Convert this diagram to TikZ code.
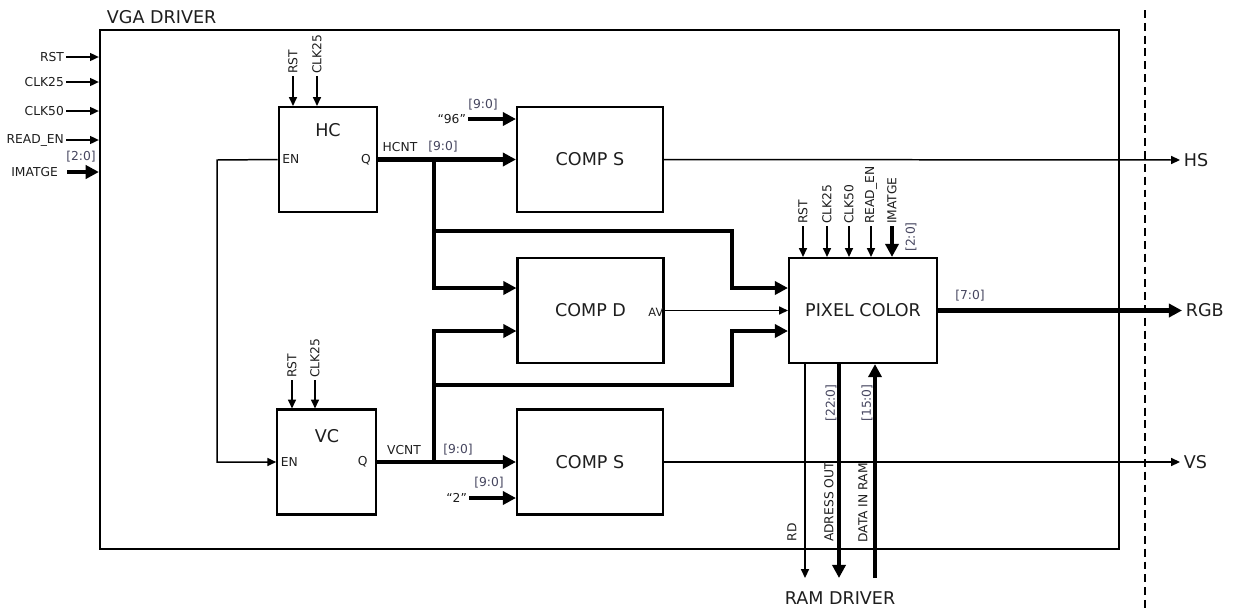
\documentclass[tikz,border=0pt]{standalone}
\usepackage{fontspec}
\setmainfont{DejaVu Sans}
\usetikzlibrary{arrows.meta}
\definecolor{txtgray}{RGB}{30,30,30}
\definecolor{buslbl}{RGB}{70,70,95}

\begin{document}
\begin{tikzpicture}[x=0.02cm,y=-0.02cm,blk/.style={draw,line width=1.2pt,minimum width=2.92cm,minimum height=2.1cm,font=\fontsize{10}{12}\selectfont,text=txtgray},cnt/.style={blk,minimum width=1.97cm},big/.style={inner sep=2pt,font=\fontsize{10}{12}\selectfont,text=txtgray},lbl/.style={inner sep=1pt,font=\fontsize{7}{8}\selectfont,text=txtgray},bw/.style={lbl,text=buslbl},port/.style={lbl,inner sep=2.5pt},sig/.style={-{Triangle[length=5pt,width=4.5pt]},line width=.85pt},bus/.style={-{Triangle[length=7.5pt,width=7.5pt]},line width=2.8pt}]

\useasboundingbox (0,0) rectangle (1233,609);
\draw[line width=.9pt,dash pattern=on 4.5pt off 2.8pt] (1145,10) -- (1145,609);

\node[draw,line width=1.4pt,minimum width=20.38cm,minimum height=10.38cm] (vga) at (609.5,289.5) {};
\node[big,anchor=base west] (vgat) at (103,23) {VGA DRIVER};

\node[lbl,anchor=east] (irst) at (66,57) {RST};
\node[lbl,anchor=east] (iclk25) at (66,82) {CLK25};
\node[lbl,anchor=east] (iclk50) at (66,111) {CLK50};
\node[lbl,anchor=east] (iread) at (66,140) {READ\_EN};
\node[lbl,anchor=east,inner xsep=5pt] (iimg) at (67,172) {IMATGE};
\node[bw] (iimgw) at (81,157) {[2:0]};
\draw[sig] (irst) -- (irst -| vga.west);
\draw[sig] (iclk25) -- (iclk25 -| vga.west);
\draw[sig] (iclk50) -- (iclk50 -| vga.west);
\draw[sig] (iread) -- (iread -| vga.west);
\draw[bus] (iimg) -- (iimg -| vga.west);

\node[cnt] (hc) at (328,159.5) {};
\node[big] (hct) at (328,130) {HC};
\node[port,anchor=west] (hcen) at (hc.west) {EN};
\node[port,anchor=east,inner xsep=4pt] (hcq) at (hc.east) {Q};
\node[lbl,rotate=90,anchor=west] (hcrst) at (293,76) {RST};
\node[lbl,rotate=90,anchor=west] (hcclk) at (317,76) {CLK25};
\draw[sig] (hcrst) -- (hcrst |- hc.north);
\draw[sig] (hcclk) -- (hcclk |- hc.north);

\node[cnt] (vc) at (326.5,462) {};
\node[big] (vct) at (327,436) {VC};
\node[port,anchor=west] (vcen) at (vc.west) {EN};
\node[port,anchor=east,inner xsep=5pt] (vcq) at (vc.east) {Q};
\node[lbl,rotate=90,anchor=west] (vcrst) at (292,380) {RST};
\node[lbl,rotate=90,anchor=west] (vcclk) at (315,380) {CLK25};
\draw[sig] (vcrst) -- (vcrst |- vc.north);
\draw[sig] (vcclk) -- (vcclk |- vc.north);

\node[blk] (comps) at (590,159.5) {COMP S};
\node[blk] (compd) at (590.5,310.5) {COMP D};
\node[blk] (compsv) at (590,462) {COMP S};
\node[blk,minimum width=2.96cm] (pix) at (863,310.5) {PIXEL COLOR};
\node[lbl,anchor=east,inner sep=.5pt,font=\fontsize{6.5}{7}\selectfont] (av) at ([yshift=-1pt]compd.east) {AV};

\coordinate (enk) at (217,160);
\draw[sig] (hc.west) -- (enk) |- (vc.west);

\node[lbl] (hcnt) at (400,147) {HCNT};
\node[bw] (hcntw) at (443,147) {[9:0]};
\draw[bus] (hc.east) -- (comps.west);
\node[lbl,anchor=east] (c96) at (468,119) {“96”};
\node[bw] (c96w) at (483,105) {[9:0]};
\draw[bus] (c96) -- (c96 -| comps.west);

\node[lbl] (vcnt) at (404,450) {VCNT};
\node[bw] (vcntw) at (458,450) {[9:0]};
\draw[bus] (vc.east) -- (compsv.west);
\node[lbl,anchor=east] (c2) at (469,498) {“2”};
\node[bw] (c2w) at (489,483) {[9:0]};
\draw[bus] (c2) -- (c2 -| compsv.west);

\coordinate (hbr) at (434,160);
\coordinate (hdet) at (434,231);
\coordinate (hin) at (732,288);
\coordinate (vbr) at (434,462);
\coordinate (vdet) at (434,385);
\coordinate (vin) at (732,331);
\draw[bus] (hbr) |- (hin -| compd.west);
\draw[bus] (hdet) -| (hin) -- (hin -| pix.west);
\draw[bus] (vbr) |- (vin -| compd.west);
\draw[bus] (vdet) -| (vin) -- (vin -| pix.west);
\draw[sig] (compd.east) -- (pix.west);

\node[lbl,rotate=90,anchor=west] (prst) at (803,226) {RST};
\node[lbl,rotate=90,anchor=west] (pclk25) at (827,226) {CLK25};
\node[lbl,rotate=90,anchor=west] (pclk50) at (849,226) {CLK50};
\node[lbl,rotate=90,anchor=west] (pread) at (871,226) {READ\_EN};
\node[lbl,rotate=90,anchor=west] (pimg) at (892,226) {IMATGE};
\node[bw,rotate=90] (pimgw) at (911,237) {[2:0]};
\draw[sig] (prst) -- (prst |- pix.north);
\draw[sig] (pclk25) -- (pclk25 |- pix.north);
\draw[sig] (pclk50) -- (pclk50 |- pix.north);
\draw[sig] (pread) -- (pread |- pix.north);
\draw[bus] (pimg) -- (pimg |- pix.north);

\node[big,anchor=west] (hs) at (1180,160) {HS};
\node[big,anchor=west] (rgb) at (1182,310.5) {RGB};
\node[big,anchor=west] (vs) at (1180,462) {VS};
\node[bw] (rgbw) at (970,296) {[7:0]};
\draw[sig] (comps.east) -- (hs.west);
\draw[bus] (pix.east) -- (rgb.west);
\draw[sig] (compsv.east) -- (vs.west);

\node[big] (ram) at (840,598) {RAM DRIVER};
\coordinate (rdend) at (805,578);
\coordinate (adend) at (839,578);
\coordinate (diend) at (875,578);
\draw[sig] (rdend |- pix.south) -- (rdend);
\draw[bus] (adend |- pix.south) -- (adend);
\draw[bus] (diend) -- (diend |- pix.south);
\node[lbl,rotate=90] (rdl) at (792,532) {RD};
\node[lbl,rotate=90] (adl) at (829,502) {ADRESS OUT};
\node[bw,rotate=90] (adw) at (831,403) {[22:0]};
\node[lbl,rotate=90] (dil) at (863,503) {DATA IN RAM};
\node[bw,rotate=90] (diw) at (867,403) {[15:0]};
\end{tikzpicture}
\end{document}
